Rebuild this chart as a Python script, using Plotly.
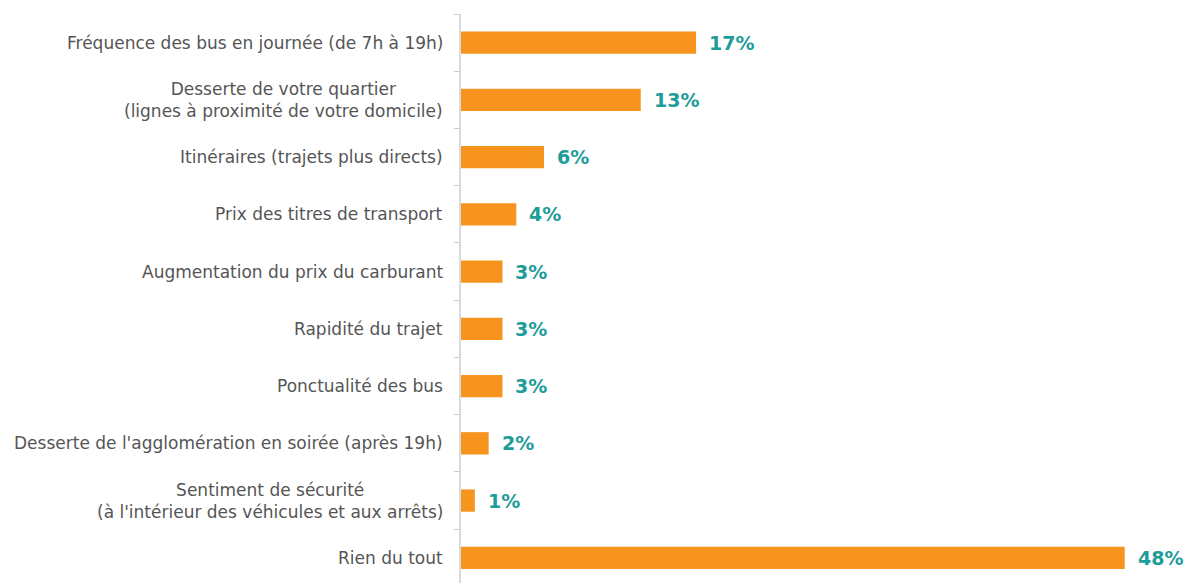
import plotly.graph_objects as go

categories = [
    "Fréquence des bus en journée (de 7h à 19h)",
    "Desserte de votre quartier<br>(lignes à proximité de votre domicile)",
    "Itinéraires (trajets plus directs)",
    "Prix des titres de transport",
    "Augmentation du prix du carburant",
    "Rapidité du trajet",
    "Ponctualité des bus",
    "Desserte de l'agglomération en soirée (après 19h)",
    "Sentiment de sécurité<br>(à l'intérieur des véhicules et aux arrêts)",
    "Rien du tout",
]
values = [17, 13, 6, 4, 3, 3, 3, 2, 1, 48]
labels = ["17%", "13%", "6%", "4%", "3%", "3%", "3%", "2%", "1%", "48%"]

# bottom-to-top order for plotly
cats_r = categories[::-1]
vals_r = values[::-1]
labs_r = labels[::-1]

BAR = "#F7941D"
TEAL = "#1E9C99"
GREY = "#555555"

fig = go.Figure()
fig.add_trace(go.Bar(
    x=vals_r, y=list(range(len(cats_r))), orientation="h",
    marker=dict(color=BAR, line=dict(width=0)),
    width=0.39, hoverinfo="skip",
))

for i, (v, lab, c) in enumerate(zip(vals_r, labs_r, cats_r)):
    fig.add_annotation(x=v, y=i, text=f"<b>{lab}</b>", showarrow=False,
                       xanchor="left", xshift=11,
                       font=dict(family="DejaVu Sans", size=19, color=TEAL))
    fig.add_annotation(x=0, y=i, text=c, showarrow=False,
                       xanchor="right", xshift=-16, align="center",
                       font=dict(family="DejaVu Sans", size=17, color=GREY))

fig.update_layout(
    width=1185, height=583,
    margin=dict(l=461, r=5, t=14, b=0, autoexpand=False),
    paper_bgcolor="white", plot_bgcolor="white",
    showlegend=False,
    xaxis=dict(range=[0, 52], visible=False, fixedrange=True, automargin=False),
    yaxis=dict(range=[-0.44, 9.5], tickmode="array",
               tickvals=[i + 0.5 for i in range(len(cats_r))],
               ticktext=[""] * len(cats_r), automargin=False,
               ticks="outside", ticklen=5, tickcolor="#d8c4c4",
               showline=True, linecolor="#d6dbe0", linewidth=1.5,
               showgrid=False, zeroline=False, fixedrange=True),
)

fig.write_html("out.html", config={"displayModeBar": False},
               post_script="document.body.style.margin='0px';document.body.style.overflow='hidden';")
